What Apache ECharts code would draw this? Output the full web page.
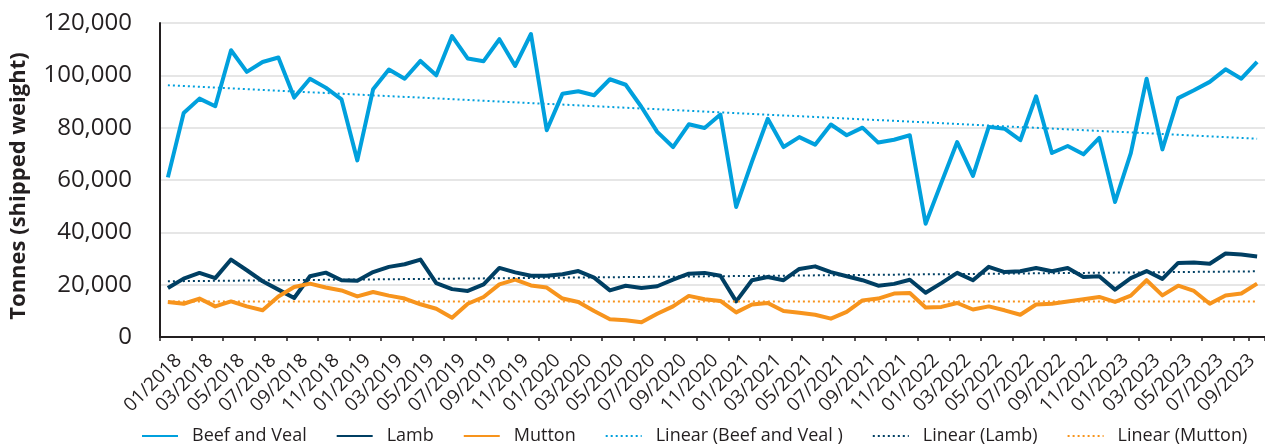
<!DOCTYPE html>
<html>
<head>
<meta charset="utf-8">
<script src="https://cdn.jsdelivr.net/npm/echarts@6.0.0/dist/echarts.min.js"></script>
<style>
  html, body { margin: 0; padding: 0; background: #fff; }
  #chart { width: 1265px; height: 445px; }
</style>
</head>
<body>
<div id="chart"></div>
<script>
// 月份：01/2018 - 10/2023
var months = [
  '01/2018', '02/2018', '03/2018', '04/2018', '05/2018', '06/2018', '07/2018', '08/2018', '09/2018', '10/2018', '11/2018', '12/2018',
  '01/2019', '02/2019', '03/2019', '04/2019', '05/2019', '06/2019', '07/2019', '08/2019', '09/2019', '10/2019', '11/2019', '12/2019',
  '01/2020', '02/2020', '03/2020', '04/2020', '05/2020', '06/2020', '07/2020', '08/2020', '09/2020', '10/2020', '11/2020', '12/2020',
  '01/2021', '02/2021', '03/2021', '04/2021', '05/2021', '06/2021', '07/2021', '08/2021', '09/2021', '10/2021', '11/2021', '12/2021',
  '01/2022', '02/2022', '03/2022', '04/2022', '05/2022', '06/2022', '07/2022', '08/2022', '09/2022', '10/2022', '11/2022', '12/2022',
  '01/2023', '02/2023', '03/2023', '04/2023', '05/2023', '06/2023', '07/2023', '08/2023', '09/2023', '10/2023'
]

var beefVeal = [
  61000, 85600, 91100, 88200, 109600, 101300, 105100, 106800, 91500, 98700,
  95300, 90800, 67500, 94700, 102200, 98700, 105500, 100000, 115000, 106400,
  105400, 113800, 103600, 115800, 79000, 93000, 93900, 92400, 98500, 96400,
  87900, 78400, 72600, 81300, 79900, 85000, 49700, 67000, 83400, 72600,
  76400, 73500, 81200, 77100, 80000, 74300, 75400, 77100, 43300, 59000,
  74500, 61600, 80300, 79600, 75200, 92000, 70300, 73000, 69800, 76100,
  51600, 70300, 98700, 71700, 91300, 94300, 97500, 102300, 98700, 105100
]

var lamb = [
  18700, 22300, 24500, 22500, 29600, 25500, 21300, 18100, 14900, 23200,
  24600, 21700, 21500, 24800, 26800, 27800, 29600, 20600, 18300, 17600,
  20100, 26400, 24700, 23400, 23400, 24000, 25200, 22700, 17800, 19600,
  18700, 19400, 21900, 24200, 24500, 23400, 13600, 21700, 22900, 21700,
  26000, 27000, 24800, 23200, 21700, 19600, 20300, 21900, 16900, 20600,
  24500, 21700, 26800, 24800, 25100, 26400, 25100, 26400, 22900, 23200,
  18100, 22500, 25200, 22200, 28300, 28500, 28000, 31900, 31500, 30800
]

var mutton = [
  13400, 12700, 14700, 11700, 13600, 11700, 10200, 15500, 19100, 20400,
  18900, 17800, 15500, 17200, 15800, 14700, 12500, 10800, 7400, 12700,
  15300, 20100, 21900, 19700, 18900, 14700, 13400, 9900, 6800, 6400,
  5600, 8900, 11700, 15700, 14400, 13800, 9400, 12400, 13000, 9900,
  9300, 8500, 7000, 9600, 14000, 14700, 16600, 16800, 11300, 11500,
  13000, 10500, 11700, 10200, 8500, 12400, 12700, 13600, 14400, 15300,
  13400, 15800, 21700, 15900, 19600, 17600, 12700, 15900, 16600, 20400
]

// 趋势线（起点，终点）
var beefTrend = [96200, 75800]
var lambTrend = [21300, 25100]
var muttonTrend = [13600, 13600]

var yTicks = [0, 20000, 40000, 60000, 80000, 100000, 120000]

var textColor = '#231f20'
var font = 'Open Sans'

// 只放首尾两个点，中间用 connectNulls 连起来
function trendData(ends) {
  var arr = months.map(function () { return null })
  arr[0] = ends[0]
  arr[months.length - 1] = ends[1]
  return arr
}

function solid(name, data, color) {
  return {
    name: name,
    type: 'line',
    data: data,
    symbol: 'none',
    lineStyle: { color: color, width: 4, join: 'round' },
    itemStyle: { color: color },
    animation: false
  }
}

function dotted(name, ends, color) {
  return {
    name: name,
    type: 'line',
    data: trendData(ends),
    connectNulls: true,
    symbol: 'none',
    lineStyle: { color: color, width: 2, type: [2, 3] },
    itemStyle: { color: color },
    animation: false
  }
}

var option = {
  backgroundColor: '#fff',
  textStyle: { fontFamily: font, color: textColor },
  grid: { left: 155, right: -7, top: 23, bottom: 108 },
  legend: {
    left: 136,
    top: 422,
    itemWidth: 36,
    itemHeight: 14,
    itemGap: 29,
    itemStyle: { opacity: 0 },
    textStyle: { fontFamily: font, fontSize: 18, color: textColor, padding: [0, 0, 0, 9] },
    data: ['Beef and Veal', 'Lamb', 'Mutton', 'Linear (Beef and Veal )', 'Linear (Lamb)', 'Linear (Mutton)']
  },
  xAxis: {
    type: 'category',
    data: months,
    boundaryGap: true,
    axisLine: { lineStyle: { color: textColor, width: 2 } },
    axisTick: { show: true, interval: 1, length: 4, lineStyle: { color: textColor, width: 1.5 } },
    axisLabel: {
      interval: 0,
      rotate: 45,
      margin: 10,
      fontSize: 19,
      fontFamily: font,
      color: textColor,
      verticalAlign: 'top',
      lineHeight: 30,
      // 每两个月显示一个标签
      formatter: function (v, i) { return i % 2 === 0 ? v : '' }
    },
    splitLine: { show: false }
  },
  yAxis: {
    type: 'value',
    min: yTicks[0],
    max: yTicks[yTicks.length - 1],
    interval: yTicks[1] - yTicks[0],
    name: 'Tonnes (shipped weight)',
    nameLocation: 'middle',
    nameRotate: 90,
    nameGap: 130,
    nameTextStyle: { fontFamily: font, fontSize: 22, fontWeight: 'bold', color: textColor, padding: [0, 12, 0, 0] },
    axisLine: { show: true, lineStyle: { color: textColor, width: 2 } },
    axisTick: { show: false },
    axisLabel: {
      margin: 28,
      fontSize: 24,
      fontFamily: font,
      color: textColor,
      formatter: function (v) { return v.toLocaleString('en-US') }
    },
    splitLine: { lineStyle: { color: '#e6e6e6', width: 2 } }
  },
  series: [
    solid('Beef and Veal', beefVeal, '#00a0dd'),
    solid('Lamb', lamb, '#003f63'),
    solid('Mutton', mutton, '#f7941d'),
    dotted('Linear (Beef and Veal )', beefTrend, '#00a0dd'),
    dotted('Linear (Lamb)', lambTrend, '#003f63'),
    dotted('Linear (Mutton)', muttonTrend, '#f7941d')
  ]
}

var chartObj = echarts.init(document.getElementById('chart'))
chartObj.setOption(option)
</script>
</body>
</html>
